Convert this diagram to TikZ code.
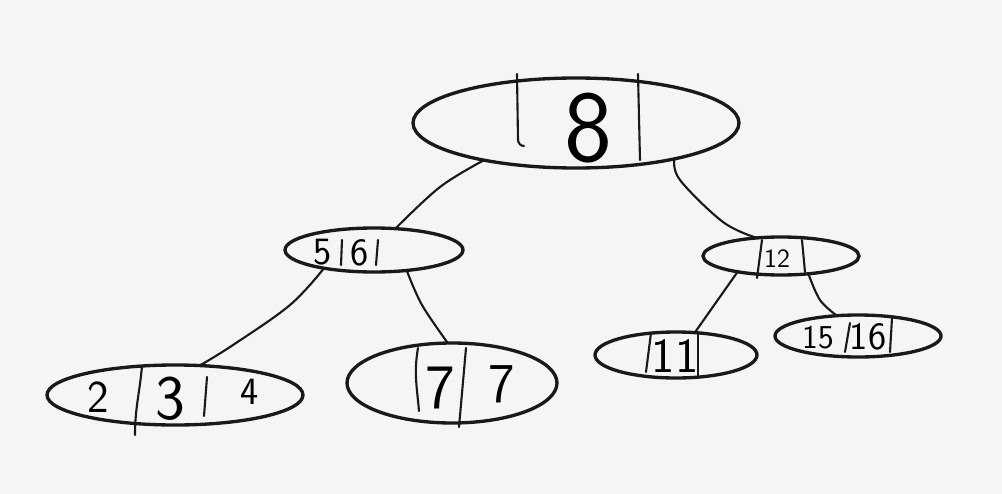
\documentclass[tikz,border=0pt]{standalone}
\usetikzlibrary{shapes.geometric}
\newlength\pxu
\setlength\pxu{0.02cm}
\begin{document}
\begin{tikzpicture}[x=0.02cm,y=-0.02cm,
  bnode/.style={ellipse,draw=black!90,line width=1.9pt,inner sep=0pt,outer sep=0pt},
  link/.style={draw=black!90,line width=1.2pt,line cap=round},
  bar/.style={draw=black!90,line width=1.2pt,line cap=round},
  dig/.style={inner sep=0pt,font=\sffamily\fontsize{#1}{#1}\selectfont}]
\fill[fill={rgb,255:red,245;green,245;blue,245}] (0,0) rectangle (1002,494);
\useasboundingbox (0,0) rectangle (1002,494);
% nodes
\node[bnode,minimum width=326\pxu,minimum height=90\pxu] (root) at (576,123) {};
\node[bnode,minimum width=178\pxu,minimum height=44\pxu] (n56) at (374,250) {};
\node[bnode,minimum width=156\pxu,minimum height=38\pxu] (n12) at (781,256) {};
\node[bnode,minimum width=256\pxu,minimum height=60\pxu] (n234) at (175,395) {};
\node[bnode,minimum width=210\pxu,minimum height=80\pxu] (n77) at (452,383) {};
\node[bnode,minimum width=162\pxu,minimum height=46\pxu] (n11) at (676,355) {};
\node[bnode,minimum width=166\pxu,minimum height=42\pxu] (n1516) at (858,336) {};
% root contents
\draw[bar] (517,74) -- (518,140) to[out=-85,in=180] (524,146);
\draw[bar] (638,74) -- (640,160);
\node[dig=58] (t8) at (588,128) {8};
% 5|6|
\node[dig=22] (t5) at (323,252) {5};
\draw[bar] (342,240) -- (341,265);
\node[dig=22] (t6) at (360,253) {6};
\draw[bar] (378,240) -- (376,265);
% |12|
\draw[bar] (762,240) -- (757,278);
\node[dig=15] (t12) at (777,259) {12};
\draw[bar] (802,240) -- (805,272);
% 2|3|4
\node[dig=26] (t2) at (98,397) {2};
\draw[bar] (142,366) to[out=-95,in=90] (135,435);
\node[dig=36] (t3) at (170,399) {3};
\draw[bar] (207,377) -- (204,416);
\node[dig=22] (t4) at (250,392) {4};
% |7|7
\draw[bar] (418,348) to[out=-100,in=95] (419,411);
\node[dig=36] (t7a) at (440,388) {7};
\draw[bar] (466,348) -- (459,427);
\node[dig=32] (t7b) at (502,384) {7};
% |11|
\draw[bar] (651,333) -- (646,372);
\node[dig=28] (t11) at (675,356) {11};
\draw[bar] (698,333) -- (698,377);
% 15|16|
\node[dig=19] (t15) at (818,338) {15};
\draw[bar] (850,323) -- (845,352);
\node[dig=22] (t16) at (868,337) {16};
\draw[bar] (892,318) -- (890,352);
% connectors
\draw[link] plot[smooth,tension=0.6] coordinates {(root.202) (440,187) (n56.45)};
\draw[link] plot[smooth,tension=0.6] coordinates {(root.-20) (680,180) (723,222) (n12.143)};
\draw[link] plot[smooth,tension=0.6] coordinates {(n56.200) (290,305) (233,345) (n234.50)};
\draw[link] plot[smooth,tension=0.6] coordinates {(n56.-32) (422,305) (n77.96)};
\draw[link] (n12.200) -- (n11.50);
\draw[link] plot[smooth,tension=0.6] coordinates {(n12.-33) (820,300) (n1516.136)};
\end{tikzpicture}
\end{document}
